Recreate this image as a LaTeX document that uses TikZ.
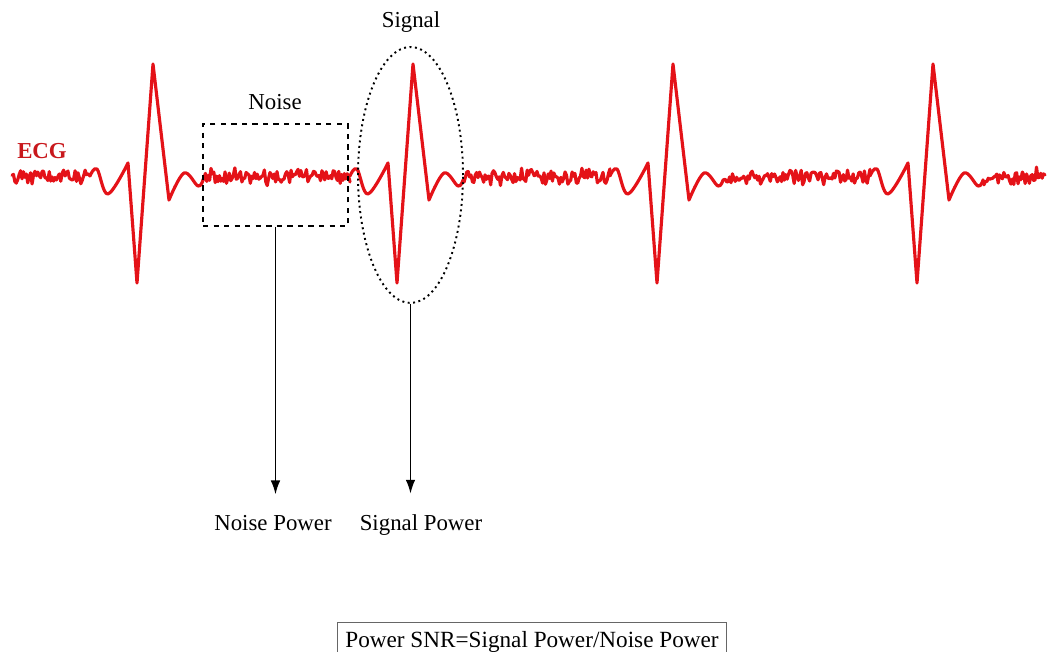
\documentclass[tikz,border=0pt]{standalone}
\usepackage{fontspec}
\setmainfont{Liberation Serif}
\usepackage{tikz}
\usetikzlibrary{calc, positioning, shapes.geometric, arrows.meta}

\definecolor{ecgred}{RGB}{228,18,24}
\definecolor{ecgdark}{RGB}{200,24,28}

\tikzset{
  ecg/.style={ecgred, line width=1.8pt, line join=round, line cap=round},
  lbl/.style={font=\fontsize{13}{15}\selectfont, inner sep=0pt, anchor=base},
  noisebox/.style={draw, dashed, line width=1.1pt, minimum width=2.9cm, minimum height=2.04cm},
  sigellipse/.style={draw, ellipse, dotted, line width=1.1pt, minimum width=2.1cm, minimum height=5.12cm},
  pow/.style={line width=1.1pt, -{Latex[length=8pt,width=5.5pt]}, shorten >=0.4cm},
  snrbox/.style={draw=black!60, line width=0.6pt, font=\fontsize{13.2}{15}\selectfont, inner xsep=4.5pt, inner ysep=5pt, anchor=north west}
}

\begin{document}
\begin{tikzpicture}[x=0.02cm, y=-0.02cm]
\useasboundingbox (0,0) rectangle (1048,652);
\pgfmathsetseed{11}

% noise before the first beat
\draw[ecg] plot[domain=12:88, samples=54] (\x,{177+6*rand+6*rand*abs(rand)}) -- (90,176);

% beats with noise in between
\foreach \b in {97,357,617,877} {
    \draw[ecg] ({\b-7},176) -- plot[smooth, tension=0.6] coordinates {({\b-7},176) (\b,169) ({\b+11},194) ({\b+31},163)}
        -- ({\b+40},283) -- ({\b+56},64) -- ({\b+72},200)
        -- plot[smooth, tension=0.6] coordinates {({\b+72},200) ({\b+87},173) ({\b+101},186) ({\b+106},180)};
    \pgfmathsetmacro{\nend}{min(\b+253,1045)}
    \pgfmathtruncatemacro{\ns}{(\nend-\b-106)/1.4}
    \draw[ecg] ({\b+106},180) -- plot[domain={\b+107}:\nend, samples=\ns] (\x,{177+6*rand+6*rand*abs(rand)});
}
\node[font=\fontsize{13}{15}\selectfont\bfseries, text=ecgdark, inner sep=0pt, anchor=base] (ecglbl) at (42,158) {ECG};

% noise window and signal window
\node[noisebox] (nbox) at (275.5,175) {};
\node[lbl] (noiselbl) at (275,110) {Noise};
\node[sigellipse] (sig) at (410.5,175) {};
\node[lbl] (siglbl) at (411,28) {Signal};

% powers
\node[lbl] (npow) at (273,530) {Noise Power};
\node[lbl] (spow) at (421,530) {Signal Power};
\draw[pow] (nbox.south) -- (nbox.south |- npow.north);
\draw[pow] (sig.south) -- (sig.south |- spow.north);

\node[snrbox] (snr) at (337,622) {Power SNR=Signal Power/Noise Power};
\end{tikzpicture}
\end{document}
